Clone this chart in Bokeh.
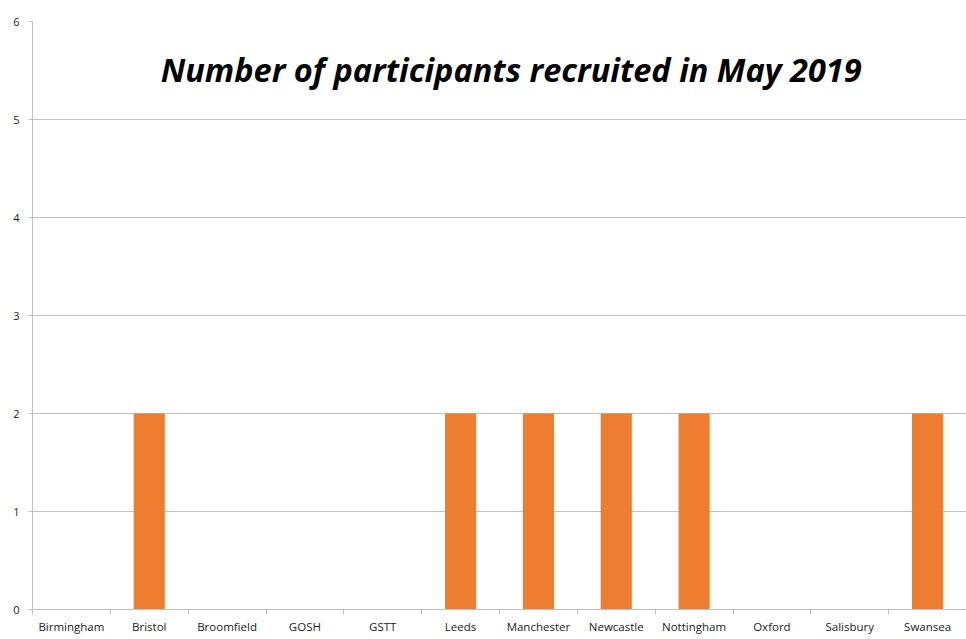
from bokeh.plotting import figure
from bokeh.models import Range1d, LinearAxis, FixedTicker, Label, ColumnDataSource
from bokeh.embed import file_html
from bokeh.resources import INLINE

sites = ["Birmingham", "Bristol", "Broomfield", "GOSH", "GSTT", "Leeds",
         "Manchester", "Newcastle", "Nottingham", "Oxford", "Salisbury", "Swansea"]
participants = [0, 2, 0, 0, 0, 2, 2, 2, 2, 0, 0, 2]
y_ticks = [0, 1, 2, 3, 4, 5, 6]
title_text = "Number of participants recruited in May 2019"

FONT = "Open Sans"
GRID = "#C0C0C0"
AXIS = "#BFBFBF"

n = len(sites)
centers = [i + 0.5 for i in range(n)]
boundaries = list(range(n + 1))

p = figure(width=966, height=639, output_backend="svg", toolbar_location=None,
           x_range=Range1d(0, n), y_range=Range1d(0, 6),
           x_axis_location=None, y_axis_location=None,
           min_border_left=32, min_border_right=0, min_border_top=21, min_border_bottom=30,
           background_fill_color="white", border_fill_color="white")
p.outline_line_color = None

src = ColumnDataSource(dict(x=centers, n=participants, site=sites))
p.vbar(x="x", top="n", width=0.4, source=src, fill_color="#ED7D31", line_color=None)

# y axis
yax = LinearAxis(ticker=FixedTicker(ticks=y_ticks))
yax.axis_line_color = AXIS
yax.major_tick_line_color = AXIS
yax.major_tick_out = 4
yax.major_tick_in = 0
yax.minor_tick_line_color = None
yax.major_label_standoff = 9
yax.major_label_text_font = FONT
yax.major_label_text_font_size = "11px"
yax.major_label_text_color = "#222222"
p.add_layout(yax, "left")

# x axis: tick marks at category boundaries (no labels)
tax = LinearAxis(ticker=FixedTicker(ticks=boundaries))
tax.axis_line_color = AXIS
tax.major_tick_line_color = AXIS
tax.major_tick_out = 5
tax.major_tick_in = 0
tax.minor_tick_line_color = None
tax.major_label_text_font_size = "0px"
tax.major_label_text_alpha = 0
tax.major_label_standoff = 0
p.add_layout(tax, "below")

# x axis: category labels at centres
xax = LinearAxis(ticker=FixedTicker(ticks=centers))
xax.major_label_overrides = {c: s for c, s in zip(centers, sites)}
xax.axis_line_color = None
xax.major_tick_line_color = None
xax.minor_tick_line_color = None
xax.major_label_standoff = -2
xax.major_label_text_font = FONT
xax.major_label_text_font_size = "11.5px"
xax.major_label_text_color = "#222222"
p.add_layout(xax, "below")

p.xgrid.grid_line_color = None
p.ygrid.grid_line_color = GRID
p.ygrid.ticker = FixedTicker(ticks=y_ticks)

title = Label(x=6.15, y=5.51, text=title_text, text_align="center", text_baseline="alphabetic",
              text_font=FONT, text_font_style="bold italic", text_font_size="32.5px", text_color="black")
p.add_layout(title)

open("out.html", "w").write(file_html(p, INLINE))
